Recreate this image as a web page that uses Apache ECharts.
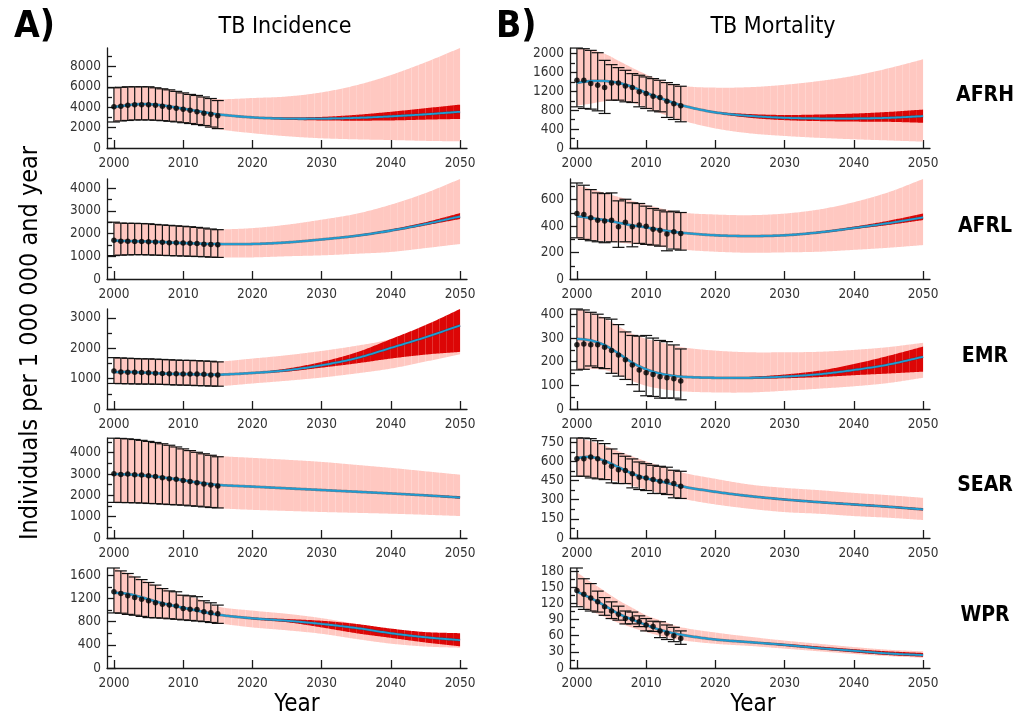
<!DOCTYPE html>
<html>
<head>
<meta charset="utf-8">
<script src="https://cdn.jsdelivr.net/npm/echarts@6/dist/echarts.min.js"></script>
<style>
  html, body { margin: 0; padding: 0; background: #fff; }
  #chart { width: 1014px; height: 720px; }
</style>
</head>
<body>
<div id="chart"></div>
<script>
// ---- x positions -------------------------------------------------------
const modelYears = [2000, 2002, 2004, 2006, 2008, 2010, 2012, 2015, 2020, 2025, 2030, 2035, 2040, 2045, 2050];
const projYears  = [2015, 2020, 2025, 2030, 2035, 2040, 2045, 2050];
const obsYears   = [2000, 2001, 2002, 2003, 2004, 2005, 2006, 2007, 2008, 2009, 2010, 2011, 2012, 2013, 2014, 2015];
const yearTicks  = [2000, 2010, 2020, 2030, 2040, 2050];
const regions    = ['AFRH', 'AFRL', 'EMR', 'SEAR', 'WPR'];

// ---- TB incidence ------------------------------------------------------
const incAFRH_mean  = [4000, 4200, 4300, 4250, 4080, 3850, 3620, 3300, 3000, 2880, 2880, 2950, 3100, 3300, 3550];
const incAFRH_bandHi = [5950, 6000, 6000, 5950, 5750, 5450, 5150, 4800, 4900, 5050, 5450, 6150, 7150, 8400, 9800];
const incAFRH_bandLo = [2550, 2700, 2750, 2720, 2620, 2480, 2300, 1850, 1450, 1150, 950, 850, 780, 700, 650];
const incAFRH_redHi = [3300, 3050, 2980, 3050, 3250, 3550, 3900, 4250];
const incAFRH_redLo = [3300, 2950, 2780, 2700, 2680, 2700, 2780, 2850];
const incAFRH_obs   = [4050, 4100, 4200, 4250, 4250, 4250, 4200, 4100, 4000, 3900, 3800, 3700, 3550, 3400, 3300, 3150];
const incAFRH_obsHi = [5900, 5950, 6000, 6000, 6000, 6000, 5900, 5800, 5700, 5550, 5400, 5250, 5150, 5000, 4850, 4650];
const incAFRH_obsLo = [2550, 2650, 2700, 2750, 2750, 2750, 2720, 2680, 2620, 2560, 2480, 2400, 2300, 2200, 2050, 1900];
const incAFRH_ticks = [0, 2000, 4000, 6000, 8000];

const incAFRL_mean  = [1690, 1670, 1655, 1640, 1610, 1580, 1560, 1540, 1540, 1610, 1740, 1900, 2130, 2420, 2750];
const incAFRL_bandHi = [2500, 2450, 2450, 2400, 2360, 2340, 2270, 2190, 2240, 2390, 2610, 2870, 3270, 3780, 4400];
const incAFRL_bandLo = [1030, 1060, 1070, 1050, 1030, 1010, 990, 950, 950, 1000, 1040, 1110, 1190, 1360, 1540];
const incAFRL_redHi = [1540, 1545, 1620, 1760, 1930, 2180, 2500, 2900];
const incAFRL_redLo = [1540, 1535, 1600, 1720, 1870, 2090, 2360, 2640];
const incAFRL_obs   = [1700, 1660, 1660, 1650, 1650, 1640, 1630, 1620, 1600, 1590, 1580, 1570, 1560, 1530, 1520, 1510];
const incAFRL_obsHi = [2500, 2460, 2450, 2450, 2440, 2430, 2400, 2380, 2360, 2340, 2320, 2300, 2270, 2240, 2200, 2170];
const incAFRL_obsLo = [1030, 1050, 1060, 1070, 1070, 1060, 1050, 1040, 1030, 1020, 1010, 1000, 990, 980, 960, 950];
const incAFRL_ticks = [0, 1000, 2000, 3000, 4000];

const incEMR_mean  = [1210, 1220, 1200, 1180, 1160, 1150, 1140, 1130, 1185, 1275, 1440, 1670, 2010, 2360, 2750];
const incEMR_bandHi = [1690, 1670, 1655, 1640, 1620, 1600, 1590, 1560, 1660, 1770, 1910, 2080, 2300, 2720, 3250];
const incEMR_bandLo = [840, 830, 825, 815, 800, 785, 770, 750, 840, 930, 1035, 1170, 1330, 1560, 1800];
const incEMR_redHi = [1130, 1195, 1330, 1550, 1860, 2300, 2760, 3290];
const incEMR_redLo = [1130, 1175, 1230, 1360, 1500, 1660, 1790, 1880];
const incEMR_obs   = [1250, 1220, 1210, 1210, 1200, 1190, 1180, 1170, 1160, 1160, 1150, 1150, 1150, 1140, 1120, 1120];
const incEMR_obsHi = [1690, 1680, 1670, 1660, 1650, 1650, 1640, 1630, 1620, 1610, 1600, 1600, 1590, 1580, 1570, 1550];
const incEMR_obsLo = [840, 835, 830, 825, 820, 820, 815, 810, 800, 790, 785, 780, 770, 765, 755, 750];
const incEMR_ticks = [0, 1000, 2000, 3000];

const incSEAR_mean  = [3000, 2980, 2940, 2880, 2800, 2710, 2610, 2490, 2410, 2330, 2250, 2170, 2090, 2000, 1900];
const incSEAR_bandHi = [4690, 4660, 4590, 4490, 4360, 4190, 4030, 3860, 3760, 3670, 3570, 3430, 3290, 3130, 2970];
const incSEAR_bandLo = [1670, 1660, 1640, 1610, 1570, 1540, 1490, 1400, 1320, 1270, 1220, 1180, 1140, 1090, 1030];
const incSEAR_redHi = [2490, 2420, 2345, 2270, 2190, 2115, 2030, 1950];
const incSEAR_redLo = [2490, 2400, 2315, 2230, 2150, 2065, 1970, 1850];
const incSEAR_obs   = [3010, 2980, 3000, 2970, 2950, 2920, 2880, 2830, 2780, 2750, 2700, 2650, 2590, 2530, 2490, 2440];
const incSEAR_obsHi = [4680, 4670, 4650, 4620, 4580, 4530, 4480, 4420, 4350, 4270, 4180, 4100, 4020, 3950, 3880, 3810];
const incSEAR_obsLo = [1670, 1665, 1660, 1650, 1640, 1620, 1610, 1590, 1570, 1555, 1540, 1510, 1490, 1460, 1430, 1410];
const incSEAR_ticks = [0, 1000, 2000, 3000, 4000];

const incWPR_mean  = [1300, 1280, 1220, 1150, 1090, 1040, 990, 920, 857, 815, 760, 690, 600, 530, 480];
const incWPR_bandHi = [1725, 1630, 1525, 1430, 1330, 1260, 1200, 1060, 990, 935, 860, 760, 660, 600, 580];
const incWPR_bandLo = [950, 925, 890, 865, 850, 830, 810, 770, 700, 650, 590, 500, 420, 370, 350];
const incWPR_redHi = [920, 870, 845, 815, 760, 680, 620, 600];
const incWPR_redLo = [920, 840, 790, 700, 600, 520, 440, 375];
const incWPR_obs   = [1315, 1285, 1245, 1215, 1185, 1160, 1125, 1100, 1085, 1070, 1025, 1015, 1010, 970, 955, 935];
const incWPR_obsHi = [1725, 1675, 1630, 1570, 1525, 1475, 1430, 1370, 1330, 1315, 1255, 1245, 1230, 1160, 1125, 1085];
const incWPR_obsLo = [950, 945, 925, 910, 890, 870, 865, 860, 850, 840, 830, 820, 810, 800, 785, 770];
const incWPR_ticks = [0, 400, 800, 1200, 1600];

// ---- TB mortality ------------------------------------------------------
const morAFRH_mean  = [1380, 1420, 1420, 1380, 1295, 1170, 1060, 910, 755, 680, 640, 625, 625, 640, 675];
const morAFRH_bandHi = [2120, 2080, 2000, 1850, 1700, 1560, 1440, 1320, 1280, 1290, 1340, 1420, 1530, 1690, 1880];
const morAFRH_bandLo = [900, 940, 990, 1000, 960, 850, 740, 590, 415, 310, 255, 215, 185, 160, 135];
const morAFRH_redHi = [910, 770, 720, 700, 710, 730, 765, 815];
const morAFRH_redLo = [910, 740, 640, 590, 570, 560, 555, 535];
const morAFRH_obs   = [1436, 1436, 1366, 1330, 1281, 1380, 1380, 1316, 1281, 1190, 1155, 1098, 1070, 993, 936, 894];
const morAFRH_obsHi = [2119, 2105, 2070, 2020, 1858, 1767, 1704, 1647, 1577, 1542, 1507, 1471, 1436, 1387, 1345, 1309];
const morAFRH_obsLo = [873, 838, 824, 788, 732, 1014, 1014, 979, 964, 873, 838, 788, 767, 648, 605, 556];
const morAFRH_ticks = [0, 400, 800, 1200, 1600, 2000];

const morAFRL_mean  = [475, 460, 445, 425, 405, 390, 372, 350, 330, 324, 330, 352, 385, 422, 465];
const morAFRL_bandHi = [710, 680, 650, 620, 590, 560, 535, 502, 487, 482, 494, 525, 580, 655, 755];
const morAFRL_bandLo = [306, 295, 285, 275, 265, 256, 245, 223, 206, 198, 201, 206, 220, 236, 256];
const morAFRL_redHi = [350, 332, 327, 334, 358, 395, 440, 495];
const morAFRL_redLo = [350, 328, 321, 326, 346, 377, 408, 445];
const morAFRL_obs   = [494, 487, 462, 444, 437, 444, 394, 429, 394, 407, 399, 376, 369, 339, 356, 344];
const morAFRL_obsHi = [725, 708, 675, 650, 645, 650, 590, 602, 575, 570, 550, 532, 520, 507, 512, 502];
const morAFRL_obsLo = [311, 299, 289, 281, 274, 281, 239, 281, 243, 269, 261, 256, 248, 213, 226, 218];
const morAFRL_ticks = [0, 200, 400, 600];

const morEMR_mean  = [297, 290, 270, 235, 196, 168, 150, 137, 132, 132, 137, 147, 165, 188, 221];
const morEMR_bandHi = [423, 408, 385, 350, 318, 297, 283, 262, 247, 240, 240, 242, 250, 262, 280];
const morEMR_bandLo = [168, 170, 165, 145, 118, 98, 86, 75, 70, 70, 77, 86, 96, 110, 132];
const morEMR_redHi = [137, 133, 136, 146, 162, 190, 225, 264];
const morEMR_redLo = [137, 131, 129, 130, 135, 143, 150, 158];
const morEMR_obs   = [272, 275, 272, 272, 261, 247, 228, 208, 186, 165, 153, 146, 136, 132, 128, 118];
const morEMR_obsHi = [423, 419, 409, 401, 386, 380, 357, 326, 311, 308, 311, 300, 290, 285, 271, 254];
const morEMR_obsLo = [165, 168, 182, 175, 171, 151, 139, 125, 103, 75, 56, 53, 46, 46, 46, 39];
const morEMR_ticks = [0, 100, 200, 300, 400];

const morSEAR_mean  = [628, 635, 605, 555, 505, 468, 445, 406, 362, 328, 302, 281, 263, 245, 224];
const morSEAR_bandHi = [784, 760, 725, 680, 640, 601, 565, 515, 464, 419, 393, 375, 354, 336, 315];
const morSEAR_bandLo = [484, 475, 460, 440, 410, 380, 350, 310, 263, 229, 203, 190, 172, 159, 141];
const morSEAR_redHi = [406, 366, 333, 308, 287, 270, 252, 232];
const morSEAR_redLo = [406, 358, 323, 296, 275, 256, 238, 216];
const morSEAR_obs   = [622, 622, 635, 622, 594, 562, 536, 529, 503, 477, 471, 458, 445, 445, 427, 406];
const morSEAR_obsHi = [784, 784, 779, 763, 740, 698, 661, 641, 620, 596, 583, 570, 562, 555, 531, 523];
const morSEAR_obsLo = [484, 484, 471, 464, 458, 432, 427, 427, 393, 380, 372, 349, 349, 341, 315, 310];
const morSEAR_ticks = [0, 150, 300, 450, 600, 750];

const morWPR_mean  = [142, 130, 116, 101, 90, 80, 71, 62, 53, 48, 43, 37, 32, 27, 24];
const morWPR_bandHi = [178, 160, 143, 126, 112, 98, 89, 76, 66, 58, 51, 45, 39, 34, 31];
const morWPR_bandLo = [118, 106, 95, 84, 75, 67, 60, 52, 45, 41, 36, 31, 26, 22, 19];
const morWPR_redHi = [62, 54, 49, 45, 40, 35, 31, 28];
const morWPR_redLo = [62, 52, 47, 41, 35, 29, 24, 21];
const morWPR_obs   = [144, 137, 130, 123, 114, 106, 100, 92, 91, 86, 80, 77, 69, 64.5, 60, 55];
const morWPR_obsHi = [186, 166, 157, 143, 131, 123, 115, 106, 104, 97, 92, 87, 86, 80, 75.6, 69];
const morWPR_obsLo = [114, 109, 106, 104, 98, 92, 89, 82, 82, 77, 69, 68, 56.5, 53, 49, 44];
const morWPR_ticks = [0, 30, 60, 90, 120, 150, 180];

// ---- panel assembly ----------------------------------------------------
function panel(mean, bandHi, bandLo, redHi, redLo, obs, obsHi, obsLo, ticks) {
  return { mean, bandHi, bandLo, redHi, redLo, obs, obsHi, obsLo, ticks };
}
const incidence = [
  panel(incAFRH_mean, incAFRH_bandHi, incAFRH_bandLo, incAFRH_redHi, incAFRH_redLo, incAFRH_obs, incAFRH_obsHi, incAFRH_obsLo, incAFRH_ticks),
  panel(incAFRL_mean, incAFRL_bandHi, incAFRL_bandLo, incAFRL_redHi, incAFRL_redLo, incAFRL_obs, incAFRL_obsHi, incAFRL_obsLo, incAFRL_ticks),
  panel(incEMR_mean, incEMR_bandHi, incEMR_bandLo, incEMR_redHi, incEMR_redLo, incEMR_obs, incEMR_obsHi, incEMR_obsLo, incEMR_ticks),
  panel(incSEAR_mean, incSEAR_bandHi, incSEAR_bandLo, incSEAR_redHi, incSEAR_redLo, incSEAR_obs, incSEAR_obsHi, incSEAR_obsLo, incSEAR_ticks),
  panel(incWPR_mean, incWPR_bandHi, incWPR_bandLo, incWPR_redHi, incWPR_redLo, incWPR_obs, incWPR_obsHi, incWPR_obsLo, incWPR_ticks)
];
const mortality = [
  panel(morAFRH_mean, morAFRH_bandHi, morAFRH_bandLo, morAFRH_redHi, morAFRH_redLo, morAFRH_obs, morAFRH_obsHi, morAFRH_obsLo, morAFRH_ticks),
  panel(morAFRL_mean, morAFRL_bandHi, morAFRL_bandLo, morAFRL_redHi, morAFRL_redLo, morAFRL_obs, morAFRL_obsHi, morAFRL_obsLo, morAFRL_ticks),
  panel(morEMR_mean, morEMR_bandHi, morEMR_bandLo, morEMR_redHi, morEMR_redLo, morEMR_obs, morEMR_obsHi, morEMR_obsLo, morEMR_ticks),
  panel(morSEAR_mean, morSEAR_bandHi, morSEAR_bandLo, morSEAR_redHi, morSEAR_redLo, morSEAR_obs, morSEAR_obsHi, morSEAR_obsLo, morSEAR_ticks),
  panel(morWPR_mean, morWPR_bandHi, morWPR_bandLo, morWPR_redHi, morWPR_redLo, morWPR_obs, morWPR_obsHi, morWPR_obsLo, morWPR_ticks)
];

// ---- styling -----------------------------------------------------------
const FONT = '"Liberation Sans Narrow", "DejaVu Sans Condensed", "Roboto", sans-serif';
const PINK = '#ffc8c1';
const RED = '#dc0606';
const BLUE = '#1e9dd3';
const AXIS = '#1a1a1a';
const LABEL = '#333333';
const rowTops = [48, 179, 309, 438, 568];
const colLefts = [107, 570];
const GRID_W = 360, GRID_H = 100;

const zip = (xs, ys) => xs.map((x, i) => [x, ys[i]]);

// cubic Hermite curve through pixel-space knots (x strictly increasing)
function hermiteAt(pts, x) {
  const n = pts.length;
  let i = 0;
  while (i < n - 2 && x > pts[i + 1][0]) i++;
  const slope = k => {
    if (k === 0) return (pts[1][1] - pts[0][1]) / (pts[1][0] - pts[0][0]);
    if (k === n - 1) return (pts[n - 1][1] - pts[n - 2][1]) / (pts[n - 1][0] - pts[n - 2][0]);
    return (pts[k + 1][1] - pts[k - 1][1]) / (pts[k + 1][0] - pts[k - 1][0]);
  };
  const x0 = pts[i][0], x1 = pts[i + 1][0], h = x1 - x0, t = (x - x0) / h;
  const y0 = pts[i][1], y1 = pts[i + 1][1], m0 = slope(i) * h, m1 = slope(i + 1) * h;
  const t2 = t * t, t3 = t2 * t;
  return (2 * t3 - 3 * t2 + 1) * y0 + (t3 - 2 * t2 + t) * m0 + (-2 * t3 + 3 * t2) * y1 + (t3 - t2) * m1;
}

// uncertainty band, drawn as one slice per calendar year
function bandRenderer(color) {
  return function (params, api) {
    if (params.dataIndexInside !== 0) return null;
    const n = params.dataInsideLength;
    const up = [], lo = [];
    for (let i = 0; i < n; i++) {
      const x = api.value(0, i);
      lo.push(api.coord([x, api.value(1, i)]));
      up.push(api.coord([x, api.value(2, i)]));
    }
    const first = api.value(0, 0), last = api.value(0, n - 1);
    const children = [];
    for (let yr = first; yr < last; yr++) {
      const pa = api.coord([yr, 0])[0], pb = api.coord([yr + 1, 0])[0];
      const top = [], bot = [];
      for (let k = 0; k <= 6; k++) {
        const px = pa + (pb - pa) * k / 6;
        top.push([px, hermiteAt(up, px)]);
        bot.push([px, hermiteAt(lo, px)]);
      }
      children.push({ type: 'polygon', shape: { points: top.concat(bot.reverse()) }, style: { fill: color } });
    }
    return { type: 'group', children };
  };
}

// mean trajectory: thin dark edge under a blue core
function meanRenderer(params, api) {
  if (params.dataIndexInside !== 0) return null;
  const n = params.dataInsideLength;
  const knots = [];
  for (let i = 0; i < n; i++) knots.push(api.coord([api.value(0, i), api.value(1, i)]));
  const pts = [];
  const a = knots[0][0], b = knots[n - 1][0];
  for (let px = a; px < b; px += 1.5) pts.push([px, hermiteAt(knots, px)]);
  pts.push(knots[n - 1]);
  return {
    type: 'group',
    children: [
      { type: 'polyline', shape: { points: pts }, style: { stroke: '#2d4a5c', lineWidth: 2.8, opacity: 0.6, fill: null } },
      { type: 'polyline', shape: { points: pts }, style: { stroke: BLUE, lineWidth: 1.8, fill: null } }
    ]
  };
}

function errorBarItem(params, api) {
  const x = api.value(0);
  const a = api.coord([x, api.value(1)]);
  const b = api.coord([x, api.value(2)]);
  const w = 6;
  const style = { stroke: '#111', lineWidth: 1.2 };
  return {
    type: 'group',
    children: [
      { type: 'line', shape: { x1: a[0], y1: a[1], x2: b[0], y2: b[1] }, style },
      { type: 'line', shape: { x1: a[0] - w, y1: a[1], x2: a[0] + w, y2: a[1] }, style },
      { type: 'line', shape: { x1: b[0] - w, y1: b[1], x2: b[0] + w, y2: b[1] }, style }
    ]
  };
}

const grids = [], xAxes = [], yAxes = [], series = [];

function addPanel(p, col, row) {
  const gi = grids.length;
  grids.push({ left: colLefts[col], top: rowTops[row], width: GRID_W, height: GRID_H, containLabel: false });

  const yMax = Math.max(...p.bandHi, ...p.redHi, ...p.obsHi, ...p.mean);
  const step = p.ticks[1] - p.ticks[0];
  const minor = [];
  for (let v = step / 2; v <= yMax; v += step) minor.push(v);

  xAxes.push({
    type: 'value', gridIndex: gi, min: 1999, max: 2051,
    axisLine: { show: true, onZero: false, lineStyle: { color: AXIS, width: 1.3 } },
    axisTick: { show: true, inside: true, length: 8, customValues: yearTicks, lineStyle: { color: AXIS, width: 1.3 } },
    axisLabel: { show: true, customValues: yearTicks, margin: 8, color: LABEL, fontFamily: FONT, fontSize: 13.5,
                 formatter: v => String(v) },
    splitLine: { show: false }
  });
  yAxes.push({
    type: 'value', gridIndex: gi, min: 0, max: yMax, position: 'left',
    axisLine: { show: true, onZero: false, lineStyle: { color: AXIS, width: 1.3 } },
    axisTick: { show: true, inside: true, length: 9, customValues: p.ticks, lineStyle: { color: AXIS, width: 1.3 } },
    axisLabel: { show: true, customValues: p.ticks, margin: 6, color: LABEL, fontFamily: FONT, fontSize: 13.5,
                 formatter: v => String(v) },
    splitLine: { show: false }
  });
  yAxes.push({
    type: 'value', gridIndex: gi, min: 0, max: yMax, position: 'left', offset: 0,
    axisLine: { show: false },
    axisTick: { show: true, inside: true, length: 5, customValues: minor, lineStyle: { color: AXIS, width: 1.3 } },
    axisLabel: { show: false },
    splitLine: { show: false }
  });
  const ya = yAxes.length - 2;
  const common = { xAxisIndex: gi, yAxisIndex: ya, silent: true, animation: false, coordinateSystem: 'cartesian2d' };

  series.push(Object.assign({}, common, {
    type: 'custom', renderItem: bandRenderer(PINK), z: 1, encode: { x: 0, y: [1, 2] },
    data: modelYears.map((y, i) => [y, p.bandLo[i], p.bandHi[i]])
  }));
  series.push(Object.assign({}, common, {
    type: 'custom', renderItem: bandRenderer(RED), z: 2, encode: { x: 0, y: [1, 2] },
    data: projYears.map((y, i) => [y, p.redLo[i], p.redHi[i]])
  }));
  series.push(Object.assign({}, common, {
    type: 'custom', renderItem: errorBarItem, z: 3, encode: { x: 0, y: [1, 2] },
    data: obsYears.map((y, i) => [y, p.obsLo[i], p.obsHi[i]])
  }));
  series.push(Object.assign({}, common, {
    type: 'custom', renderItem: meanRenderer, z: 4, encode: { x: 0, y: 1 },
    data: zip(modelYears, p.mean)
  }));
  series.push(Object.assign({}, common, {
    type: 'scatter', symbol: 'circle', symbolSize: 5.5, z: 6,
    itemStyle: { color: '#000' }, data: zip(obsYears, p.obs)
  }));
}

incidence.forEach((p, r) => addPanel(p, 0, r));
mortality.forEach((p, r) => addPanel(p, 1, r));

const graphic = [
  { type: 'text', left: 14, top: 9, style: { text: 'A)', font: 'bold 37px ' + FONT, fill: '#000' } },
  { type: 'text', left: 496, top: 9, style: { text: 'B)', font: 'bold 37px ' + FONT, fill: '#000' } },
  { type: 'text', x: 285, y: 27, style: { text: 'TB Incidence', font: '23px ' + FONT, fill: '#000', textAlign: 'center', textVerticalAlign: 'middle' } },
  { type: 'text', x: 773, y: 27, style: { text: 'TB Mortality', font: '23px ' + FONT, fill: '#000', textAlign: 'center', textVerticalAlign: 'middle' } },
  { type: 'text', x: 297, y: 705, style: { text: 'Year', font: '24px ' + FONT, fill: '#000', textAlign: 'center', textVerticalAlign: 'middle' } },
  { type: 'text', x: 753, y: 705, style: { text: 'Year', font: '24px ' + FONT, fill: '#000', textAlign: 'center', textVerticalAlign: 'middle' } },
  { type: 'text', x: 30, y: 343, rotation: Math.PI / 2,
    style: { text: 'Individuals per 1 000 000 and year', font: '25px ' + FONT, fill: '#000', textAlign: 'center', textVerticalAlign: 'middle' } }
];
regions.forEach((name, r) => {
  graphic.push({ type: 'text', x: 985, y: rowTops[r] + 48, style: {
    text: name, font: 'bold 21px ' + FONT, fill: '#000', textAlign: 'center', textVerticalAlign: 'middle' } });
});

const chart = echarts.init(document.getElementById('chart'), null, { renderer: 'canvas' });
chart.setOption({
  animation: false,
  backgroundColor: '#ffffff',
  grid: grids,
  xAxis: xAxes,
  yAxis: yAxes,
  series: series,
  graphic: graphic
});
</script>
</body>
</html>
